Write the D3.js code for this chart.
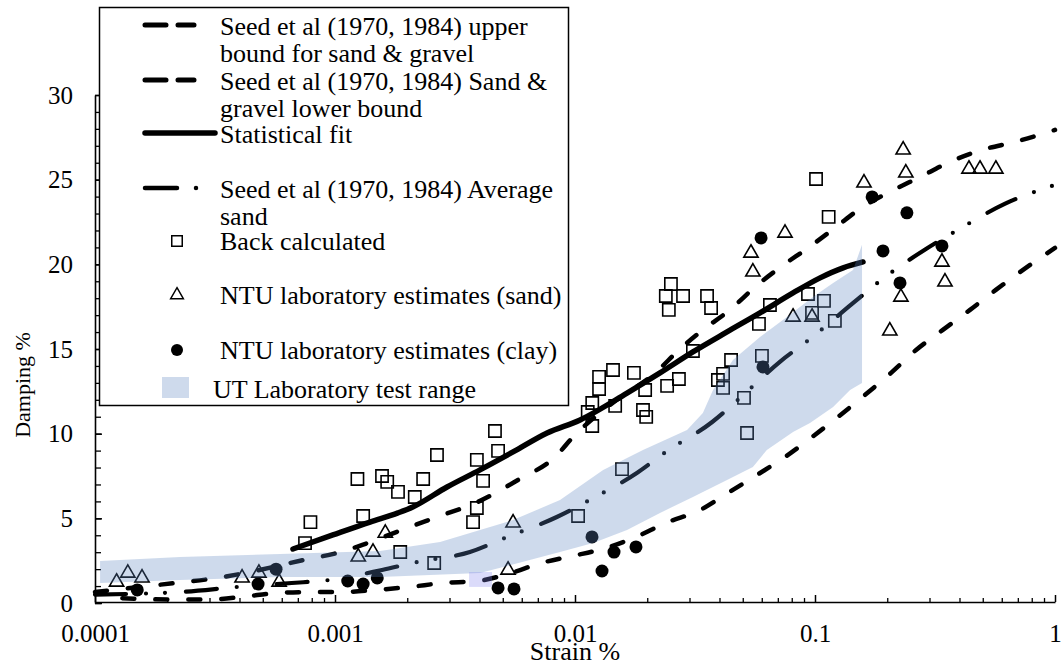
<!DOCTYPE html>
<html>
<head>
<meta charset="utf-8">
<script src="https://cdn.jsdelivr.net/npm/d3@7"></script>
<style>
  body { margin: 0; background: #fff; }
  svg { display: block; font-family: "Liberation Serif", "Times New Roman", serif; }
</style>
</head>
<body>
<div id="chart"></div>
<script>
// ******************************DATA*******************************************
// Axis ticks
var xTickValues = [0.0001, 0.001, 0.01, 0.1, 1];
var xTickLabels = ["0.0001", "0.001", "0.01", "0.1", "1"];
var yTickValues = [0, 5, 10, 15, 20, 25, 30];

// Back calculated (squares)
var backStrain = [0.00079, 0.00075, 0.00124, 0.00131, 0.00157, 0.00165, 0.00183, 0.00215, 0.00233, 0.00266,
  0.0039, 0.00414, 0.0039, 0.00376, 0.00464, 0.00478, 0.00187, 0.00259, 0.0103, 0.0157,
  0.0126, 0.0126, 0.0144, 0.0176, 0.0118, 0.0113, 0.0118, 0.0147, 0.0196, 0.0192,
  0.0198, 0.0242, 0.0271, 0.0251, 0.0239, 0.0282, 0.0355, 0.0246, 0.0369, 0.031,
  0.0447, 0.0601, 0.0414, 0.0394, 0.0414, 0.0506, 0.0521, 0.0584, 0.0649, 0.0935,
  0.109, 0.0972, 0.121, 0.101, 0.114];
var backDamping = [4.78, 3.54, 7.32, 5.14, 7.50, 7.15, 6.56, 6.26, 7.32, 8.74,
  8.45, 7.21, 5.61, 4.78, 10.16, 8.98, 3.01, 2.36, 5.14, 7.91,
  13.35, 12.64, 13.76, 13.59, 11.81, 11.28, 10.45, 11.64, 12.58, 11.40,
  10.99, 12.82, 13.23, 18.84, 18.13, 18.13, 18.13, 17.31, 17.42, 14.88,
  14.35, 14.59, 13.53, 13.17, 12.70, 12.11, 10.04, 16.48, 17.60, 18.25,
  17.84, 17.13, 16.66, 25.04, 22.80];

// NTU laboratory estimates (sand) - triangles
var sandStrain = [0.000123, 0.000137, 0.000157, 0.00041, 0.000482, 0.000585, 0.00125, 0.00144, 0.00162, 0.00552,
  0.00526, 0.0541, 0.0551, 0.075, 0.081, 0.0972, 0.16, 0.233, 0.239, 0.438,
  0.487, 0.567, 0.338, 0.348, 0.228, 0.205];
var sandDamping = [1.24, 1.77, 1.48, 1.48, 1.77, 1.24, 2.72, 3.01, 4.13, 4.73,
  1.95, 20.67, 19.55, 21.85, 16.89, 16.89, 24.81, 26.76, 25.40, 25.63,
  25.63, 25.63, 20.14, 18.96, 18.07, 16.07];

// NTU laboratory estimates (clay) - filled circles
var clayStrain = [0.00015, 0.000478, 0.000568, 0.00113, 0.00131, 0.0015, 0.00478, 0.00557, 0.01177, 0.01296,
  0.01454, 0.01795, 0.0607, 0.0596, 0.173, 0.2415, 0.192, 0.226, 0.338];
var clayDamping = [0.77, 1.12, 2.0, 1.30, 1.12, 1.48, 0.89, 0.83, 3.90, 1.89,
  3.01, 3.31, 13.94, 21.56, 23.98, 23.04, 20.79, 18.90, 21.09];

// Seed et al upper bound for sand & gravel
var upperStrain = [0.0001, 0.000215, 0.000302, 0.000422, 0.000772, 0.00102, 0.00133, 0.0018, 0.00266, 0.00394,
  0.00579, 0.00825, 0.0099, 0.014, 0.0218, 0.0271, 0.0341, 0.0442, 0.0562, 0.072,
  0.0935, 0.121, 0.1556, 0.205, 0.274, 0.365, 0.497, 0.681, 1];
var upperDamping = [0.65, 1.18, 1.42, 1.77, 2.60, 2.95, 3.48, 4.19, 5.08, 5.97,
  7.27, 8.62, 9.86, 11.7, 13.64, 14.94, 16.13, 17.31, 18.66, 19.85,
  20.97, 22.15, 23.33, 24.28, 25.16, 26.05, 26.76, 27.23, 27.94];

// Seed et al sand & gravel lower bound
var lowerStrain = [0.00013, 0.000217, 0.0003, 0.00042, 0.000573, 0.0008, 0.00108, 0.00148, 0.00205, 0.00282,
  0.00394, 0.00541, 0.00722, 0.0098, 0.01346, 0.01795, 0.0239, 0.0332, 0.0434, 0.0573,
  0.075, 0.0972, 0.1247, 0.1617, 0.2075, 0.2637, 0.341, 0.4425, 0.567, 0.736, 1];
var lowerDamping = [0.28, 0.2, 0.2, 0.38, 0.59, 0.65, 0.65, 0.77, 0.95, 1.18,
  1.30, 1.77, 2.36, 2.78, 3.25, 3.90, 4.73, 5.49, 6.50, 7.56,
  8.62, 9.80, 10.99, 12.29, 13.59, 14.94, 16.13, 17.31, 18.49, 19.67, 20.97];

// Seed et al average sand
var avgStrain = [0.0001, 0.000228, 0.000394, 0.00066, 0.00095, 0.00157, 0.0022, 0.00365, 0.0051, 0.0084,
  0.0113, 0.0181, 0.0239, 0.0373, 0.0487, 0.072, 0.0953, 0.1426, 0.1866, 0.29,
  0.387, 0.617, 1];
var avgDamping = [0.5, 0.65, 0.95, 1.18, 1.36, 1.95, 2.42, 3.01, 3.84, 5.08,
  6.02, 7.68, 8.92, 10.69, 12.11, 14.29, 15.59, 17.66, 19.02, 20.91,
  21.97, 23.57, 24.69];

// Statistical fit
var fitStrain = [0.000668, 0.00098, 0.0014, 0.00183, 0.00211, 0.00293, 0.00402, 0.00552, 0.00765, 0.0105,
  0.01647, 0.0226, 0.031, 0.043, 0.059, 0.081, 0.105, 0.131, 0.1585];
var fitDamping = [3.19, 4.02, 4.78, 5.32, 5.67, 6.85, 7.86, 8.92, 10.04, 10.81,
  12.40, 13.59, 14.83, 16.01, 17.13, 18.31, 19.20, 19.79, 20.14];

// UT laboratory test range (band), upper and lower edges
var bandTopStrain = [0.000105, 0.000226, 0.00059, 0.00154, 0.00274, 0.00552, 0.00866, 0.0131, 0.0192, 0.0293,
  0.0341, 0.0376, 0.0455, 0.059, 0.0764, 0.098, 0.119, 0.144, 0.157];
var bandTopDamping = [2.48, 2.72, 2.89, 3.07, 3.60, 4.90, 6.08, 7.86, 9.04, 10.22,
  11.22, 12.58, 14.35, 15.71, 16.89, 18.07, 18.90, 19.67, 21.15];
var bandBottomStrain = [0.000105, 0.000226, 0.00059, 0.00154, 0.00402, 0.00866, 0.0119, 0.01647, 0.0226, 0.031,
  0.043, 0.0551, 0.063, 0.081, 0.0953, 0.119, 0.14, 0.157];
var bandBottomDamping = [1.18, 1.36, 1.54, 1.54, 1.77, 3.01, 3.54, 4.31, 5.32, 6.26,
  7.27, 8.03, 9.04, 10.10, 10.63, 11.58, 12.58, 12.99];

// Small highlighted box seen in the original (strain / damping extents)
var highlightStrain = [0.00362, 0.00451];
var highlightDamping = [0.95, 1.83];

// *****************************CANVAS SET UP***********************************
var svgWidth = 1063,
    svgHeight = 664;

var serif = "Liberation Serif, Times New Roman, serif";

var svg = d3.select("#chart")
  .append("svg")
    .attr("width", svgWidth)
    .attr("height", svgHeight)
    .attr("font-family", serif);

// *******************************SCALES****************************************
var xScale = d3.scaleLog()
  .domain([0.0001, 1])
  .range([95, 1055]);

var yScale = d3.scaleLinear()
  .domain([0, 30])
  .range([603, 95]);

var zip = function(xs, ys){
  return xs.map(function(v, i){ return [v, ys[i]]; });
};

var lineGen = d3.line()
  .x(d => xScale(d[0]))
  .y(d => yScale(d[1]))
  .curve(d3.curveMonotoneX);

// *********************************AXES****************************************
// minor x ticks 2..9 per decade
var xMinor = [];
[0.0001, 0.001, 0.01, 0.1].forEach(function(dec){
  for (var k = 2; k <= 9; k++) xMinor.push(dec * k);
});

svg.append("g")
  .attr("transform", "translate(0, 602)")
  .call(d3.axisBottom(xScale).tickValues(xMinor).tickSize(-4).tickSizeOuter(0).tickFormat(""))
  .call(g => g.select(".domain").remove())
  .selectAll("line").attr("stroke", "#000").attr("stroke-width", 1.3);

svg.append("g")
  .attr("transform", "translate(0, 602)")
  .call(d3.axisBottom(xScale).tickValues(xTickValues).tickSize(-7).tickSizeOuter(0)
    .tickPadding(22).tickFormat((d, i) => xTickLabels[i]))
  .call(g => g.select(".domain").attr("stroke", "#000").attr("stroke-width", 1.6))
  .call(g => g.selectAll("line").attr("stroke", "#000").attr("stroke-width", 1.5))
  .selectAll("text")
    .attr("fill", "#000")
    .style("font-size", "25px")
    .style("font-family", serif);

// y axis: minor ticks every 1 %
svg.append("g")
  .attr("transform", "translate(95, 0)")
  .call(d3.axisLeft(yScale).tickValues(d3.range(0, 31, 1)).tickSize(-6).tickSizeOuter(0).tickFormat(""))
  .call(g => g.select(".domain").remove())
  .selectAll("line").attr("stroke", "#000").attr("stroke-width", 1.3);

svg.append("g")
  .attr("transform", "translate(95, 0)")
  .call(d3.axisLeft(yScale).tickValues(yTickValues).tickSize(-7).tickSizeOuter(0).tickPadding(22))
  .call(g => g.select(".domain").attr("stroke", "#000").attr("stroke-width", 1.6))
  .call(g => g.selectAll("line").attr("stroke", "#000").attr("stroke-width", 1.5))
  .selectAll("text")
    .attr("fill", "#000")
    .style("font-size", "25px")
    .style("font-family", serif);

// Axis titles
svg.append("text")
  .attr("transform", "translate(30, 385) rotate(-90)")
  .attr("text-anchor", "middle")
  .style("font-size", "22px")
  .text("Damping %");

svg.append("text")
  .attr("x", 575)
  .attr("y", 660)
  .attr("text-anchor", "middle")
  .style("font-size", "26px")
  .text("Strain %");

// *********************************CURVES**************************************
var curves = svg.append("g");

// Upper bound
curves.append("path")
  .datum(zip(upperStrain, upperDamping))
  .attr("d", lineGen)
  .attr("fill", "none")
  .attr("stroke", "#000")
  .attr("stroke-width", 4.5)
  .attr("stroke-linecap", "round")
  .attr("stroke-dasharray", "12,21");

// Lower bound
curves.append("path")
  .datum(zip(lowerStrain, lowerDamping))
  .attr("d", lineGen)
  .attr("fill", "none")
  .attr("stroke", "#000")
  .attr("stroke-width", 4.5)
  .attr("stroke-linecap", "round")
  .attr("stroke-dasharray", "12,21");

// Average sand (dash - dot - dot)
curves.append("path")
  .datum(zip(avgStrain, avgDamping))
  .attr("d", lineGen)
  .attr("fill", "none")
  .attr("stroke", "#000")
  .attr("stroke-width", 4.2)
  .attr("stroke-linecap", "round")
  .attr("stroke-dasharray", "31,20,0,19,0,21");

// Statistical fit
curves.append("path")
  .datum(zip(fitStrain, fitDamping))
  .attr("d", lineGen)
  .attr("fill", "none")
  .attr("stroke", "#000")
  .attr("stroke-width", 5.5)
  .attr("stroke-linecap", "round");

// *********************************POINTS**************************************
var squareSym = d3.symbol().type(d3.symbolSquare).size(150);
var triSym = d3.symbol().type(d3.symbolTriangle).size(88);

svg.append("g").selectAll("path")
  .data(zip(backStrain, backDamping))
  .enter()
  .append("path")
    .attr("d", squareSym)
    .attr("transform", d => `translate(${xScale(d[0])}, ${yScale(d[1])})`)
    .attr("fill", "none")
    .attr("stroke", "#000")
    .attr("stroke-width", 1.6);

svg.append("g").selectAll("path")
  .data(zip(sandStrain, sandDamping))
  .enter()
  .append("path")
    .attr("d", triSym)
    .attr("transform", d => `translate(${xScale(d[0])}, ${yScale(d[1])})`)
    .attr("fill", "none")
    .attr("stroke", "#000")
    .attr("stroke-width", 1.6);

svg.append("g").selectAll("circle")
  .data(zip(clayStrain, clayDamping))
  .enter()
  .append("circle")
    .attr("cx", d => xScale(d[0]))
    .attr("cy", d => yScale(d[1]))
    .attr("r", 6.5)
    .attr("fill", "#000");

// ******************************UT BAND (on top)*******************************
var bandPts = zip(bandTopStrain, bandTopDamping)
  .concat(zip(bandBottomStrain, bandBottomDamping).reverse());

svg.append("path")
  .datum(bandPts)
  .attr("d", d3.line()
    .x(d => xScale(d[0]))
    .y(d => yScale(d[1]))
    .curve(d3.curveLinearClosed))
  .attr("fill", "rgb(93,133,193)")
  .attr("fill-opacity", 0.3)
  .attr("stroke", "none");

svg.append("rect")
  .attr("x", xScale(highlightStrain[0]))
  .attr("y", yScale(highlightDamping[1]))
  .attr("width", xScale(highlightStrain[1]) - xScale(highlightStrain[0]))
  .attr("height", yScale(highlightDamping[0]) - yScale(highlightDamping[1]))
  .attr("fill", "rgb(136,136,238)")
  .attr("fill-opacity", 0.3);

// *********************************LEGEND**************************************
var legend = svg.append("g");

legend.append("rect")
  .attr("x", 99.5)
  .attr("y", 7.5)
  .attr("width", 469)
  .attr("height", 398)
  .attr("fill", "#fff")
  .attr("stroke", "#000")
  .attr("stroke-width", 1.5);

var legendText = function(x, y, lines){
  var t = legend.append("text")
    .attr("x", x)
    .attr("y", y)
    .attr("font-family", serif)
    .style("font-size", "26px");
  lines.forEach(function(s, i){
    t.append("tspan").attr("x", x).attr("dy", i === 0 ? 0 : 27).text(s);
  });
};

// dashed samples
[25, 80].forEach(function(y){
  legend.append("line")
    .attr("x1", 145).attr("x2", 194).attr("y1", y).attr("y2", y)
    .attr("stroke", "#000").attr("stroke-width", 5)
    .attr("stroke-linecap", "round")
    .attr("stroke-dasharray", "21,12");
});
legendText(220, 35, ["Seed et al (1970, 1984) upper", "bound for sand & gravel"]);
legendText(220, 90, ["Seed et al (1970, 1984) Sand &", "gravel lower bound"]);

legend.append("line")
  .attr("x1", 145).attr("x2", 215).attr("y1", 133).attr("y2", 133)
  .attr("stroke", "#000").attr("stroke-width", 5.5)
  .attr("stroke-linecap", "round");
legendText(220, 143, ["Statistical fit"]);

legend.append("line")
  .attr("x1", 145).attr("x2", 197).attr("y1", 188).attr("y2", 188)
  .attr("stroke", "#000").attr("stroke-width", 4.5)
  .attr("stroke-linecap", "round")
  .attr("stroke-dasharray", "32,19,0,100");
legendText(220, 198, ["Seed et al (1970, 1984) Average", "sand"]);

legend.append("path")
  .attr("d", d3.symbol().type(d3.symbolSquare).size(110)())
  .attr("transform", "translate(177, 241)")
  .attr("fill", "none").attr("stroke", "#000").attr("stroke-width", 1.5);
legendText(220, 250, ["Back calculated"]);

legend.append("path")
  .attr("d", d3.symbol().type(d3.symbolTriangle).size(70)())
  .attr("transform", "translate(177, 295)")
  .attr("fill", "none").attr("stroke", "#000").attr("stroke-width", 1.5);
legendText(220, 304, ["NTU laboratory estimates (sand)"]);

legend.append("circle")
  .attr("cx", 177).attr("cy", 350).attr("r", 6)
  .attr("fill", "#000");
legendText(220, 359, ["NTU laboratory estimates (clay)"]);

legend.append("rect")
  .attr("x", 162).attr("y", 377).attr("width", 27).attr("height", 21)
  .attr("fill", "rgb(93,133,193)")
  .attr("fill-opacity", 0.3);
legendText(213, 398, ["UT Laboratory test range"]);
</script>
</body>
</html>
